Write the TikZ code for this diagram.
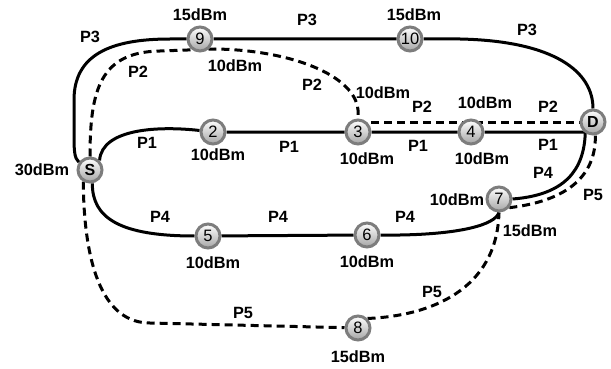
\documentclass[tikz,border=0pt]{standalone}
\usepackage{fontspec}
\setmainfont{Liberation Sans}
\pgfdeclarelayer{bg}
\pgfsetlayers{bg,main}
\definecolor{rimgray}{RGB}{125,125,125}
\definecolor{ballgray}{RGB}{165,165,165}
\tikzset{
  nd/.style={circle, minimum size=24pt, inner sep=0pt, line width=3pt, draw=rimgray,
    top color=white, bottom color=ballgray, text=black, font=\fontsize{16.5}{17}\selectfont},
  ndb/.style={nd, font=\fontsize{16}{17}\selectfont\bfseries},
  lbl/.style={inner sep=0pt, text=black, font=\fontsize{16.3}{18}\selectfont\bfseries},
  pathsolid/.style={line width=3pt, draw=black},
  pathdash/.style={line width=3pt, draw=black, dash pattern=on 8pt off 5pt},
}
\begin{document}
\begin{tikzpicture}[x=1pt, y=-1pt]
\useasboundingbox (0,0) rectangle (611,369);
% nodes
\node[ndb] (S) at (90,170) {S};
\node[ndb] (D) at (593,122) {D};
\node[nd] (n2) at (213,132) {2};
\node[nd] (n3) at (358,132) {3};
\node[nd] (n4) at (471,132) {4};
\node[nd] (n5) at (208,236) {5};
\node[nd] (n6) at (367,235) {6};
\node[nd] (n7) at (499,199) {7};
\node[nd] (n8) at (358,328) {8};
\node[nd] (n9) at (200,39) {9};
\node[nd] (n10) at (410,39) {10};
% connectors
\begin{pgfonlayer}{bg}
% P1
\draw[pathsolid] (S.45) .. controls (102,128) and (160,126) .. (n2) -- (n3) -- (n4) -- (n4 -| D);
% P2
\draw[pathdash] (S.north) .. controls (90,90) and (100,52) .. (160,51) -- (215,49)
   .. controls (290,50) and (355,75) .. (358,110) -- (n3.north);
\draw[pathdash] (n3.center |- D.center) -- (D.center);
% P3
\draw[pathsolid] (S.145) .. controls (74,158) and (74,150) .. (74,130) -- (74,100)
   .. controls (74,55) and (110,39) .. (170,39) -- (n9) -- (n10) -- (460,39)
   .. controls (555,41) and (593,72) .. (D.north);
% P4
\draw[pathsolid] (S.-80) .. controls (92,218) and (120,236) .. (n5) -- (n6) -- (400,235)
   .. controls (460,234) and (495,225) .. (n7.south);
\draw[pathsolid] (n7.east) .. controls (565,195) and (584,170) .. (D.235);
% P5
\draw[pathdash] (S.-120) .. controls (84,270) and (105,323) .. (150,323) -- (n8);
\draw[pathdash] (n8.north east) .. controls (430,316) and (497,290) .. (n7.south);
\draw[pathdash] (n7.-40) .. controls (575,200) and (596,170) .. (D.-80);
\end{pgfonlayer}
% labels
\node[lbl] (l1) at (200,15) {15dBm};
\node[lbl] (l2) at (90,37) {P3};
\node[lbl] (l3) at (138,72) {P2};
\node[lbl] (l4) at (235,66) {10dBm};
\node[lbl] (l5) at (307,20) {P3};
\node[lbl] (l6) at (414,15) {15dBm};
\node[lbl] (l7) at (527,30) {P3};
\node[lbl] (l8) at (312,85) {P2};
\node[lbl] (l9) at (383,93) {10dBm};
\node[lbl] (l10) at (422,107) {P2};
\node[lbl] (l11) at (485,103) {10dBm};
\node[lbl] (l12) at (548,107) {P2};
\node[lbl] (l13) at (147,143) {P1};
\node[lbl] (l14) at (218,155) {10dBm};
\node[lbl] (l15) at (289,147) {P1};
\node[lbl] (l16) at (367,159) {10dBm};
\node[lbl] (l17) at (418,146) {P1};
\node[lbl] (l18) at (482,159) {10dBm};
\node[lbl] (l19) at (548,145) {P1};
\node[lbl] (l20) at (42,170) {30dBm};
\node[lbl] (l21) at (543,173) {P4};
\node[lbl] (l22) at (593,195) {P5};
\node[lbl] (l23) at (457,200) {10dBm};
\node[lbl] (l24) at (530,231) {15dBm};
\node[lbl] (l25) at (160,217) {P4};
\node[lbl] (l26) at (278,217) {P4};
\node[lbl] (l27) at (405,217) {P4};
\node[lbl] (l28) at (213,263) {10dBm};
\node[lbl] (l29) at (367,262) {10dBm};
\node[lbl] (l30) at (243,313) {P5};
\node[lbl] (l31) at (432,292) {P5};
\node[lbl] (l32) at (358,357) {15dBm};
\end{tikzpicture}
\end{document}
